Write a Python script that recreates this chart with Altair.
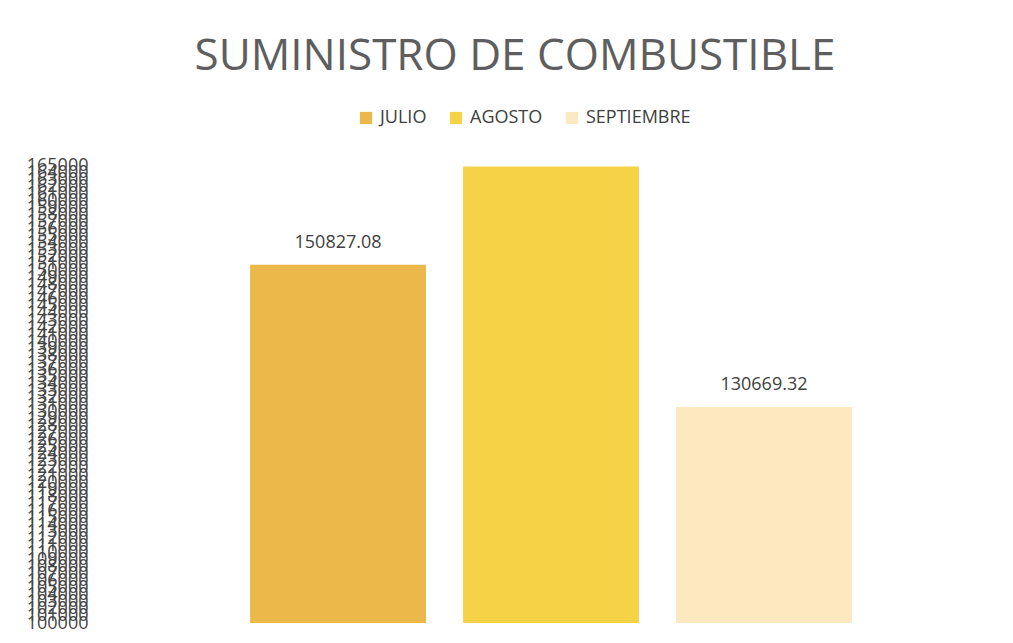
import altair as alt
import pandas as pd

months = ["JULIO", "AGOSTO", "SEPTIEMBRE"]
values = [150827.08, 164800.00, 130669.32]
value_labels = ["150827.08", "", "130669.32"]
colors = ["#EDB84A", "#F6D247", "#FCE9C0"]
y_ticks = list(range(100000, 166000, 1000))
y_min, y_max = 100000, 165000

df = pd.DataFrame({"mes": months, "valor": values, "etiqueta": value_labels})

FONT = "Open Sans"

x_enc = alt.X("mes:N", sort=months, axis=None,
              scale=alt.Scale(paddingInner=0.174, paddingOuter=0.47))
y_scale = alt.Scale(domain=[y_min, y_max], zero=False, nice=False)
y_axis = alt.Axis(values=y_ticks, labelOverlap=False, domain=False, ticks=False,
                  grid=False, title=None, labelPadding=62, labelFontSize=18,
                  labelFont=FONT, labelColor="#444444", format="d",
                  labelFlush=False, labelBound=False)

bars = alt.Chart(df).mark_bar().encode(
    x=x_enc,
    y=alt.Y("valor:Q", scale=y_scale, axis=y_axis),
    y2=alt.datum(y_min),
    color=alt.Color("mes:N", sort=months,
                    scale=alt.Scale(domain=months, range=colors),
                    legend=alt.Legend(orient="none", direction="horizontal", title=None,
                                      legendX=207, legendY=-56, symbolType="square",
                                      symbolSize=150, symbolStrokeWidth=0,
                                      labelFont=FONT, labelFontSize=18,
                                      labelColor="#404040", labelOffset=5,
                                      columnPadding=20)),
)

labels = alt.Chart(df).mark_text(dy=-22, fontSize=18, font=FONT, color="#404040").encode(
    x=x_enc,
    y=alt.Y("valor:Q", scale=y_scale, axis=y_axis),
    text="etiqueta:N",
)

chart = (bars + labels).properties(
    width=802,
    height=458,
    padding={"left": 142, "top": 157, "right": 53, "bottom": 12},
    autosize=alt.AutoSizeParams(type="none"),
    title=alt.TitleParams("SUMINISTRO DE COMBUSTIBLE", font=FONT, fontSize=44,
                          fontWeight="normal", color="#5E5E5E", anchor="middle",
                          dx=-36, offset=30),
).configure(background="white", view=alt.ViewConfig(stroke=None))

chart.save("out.html", embed_options={"renderer": "svg", "actions": False})
